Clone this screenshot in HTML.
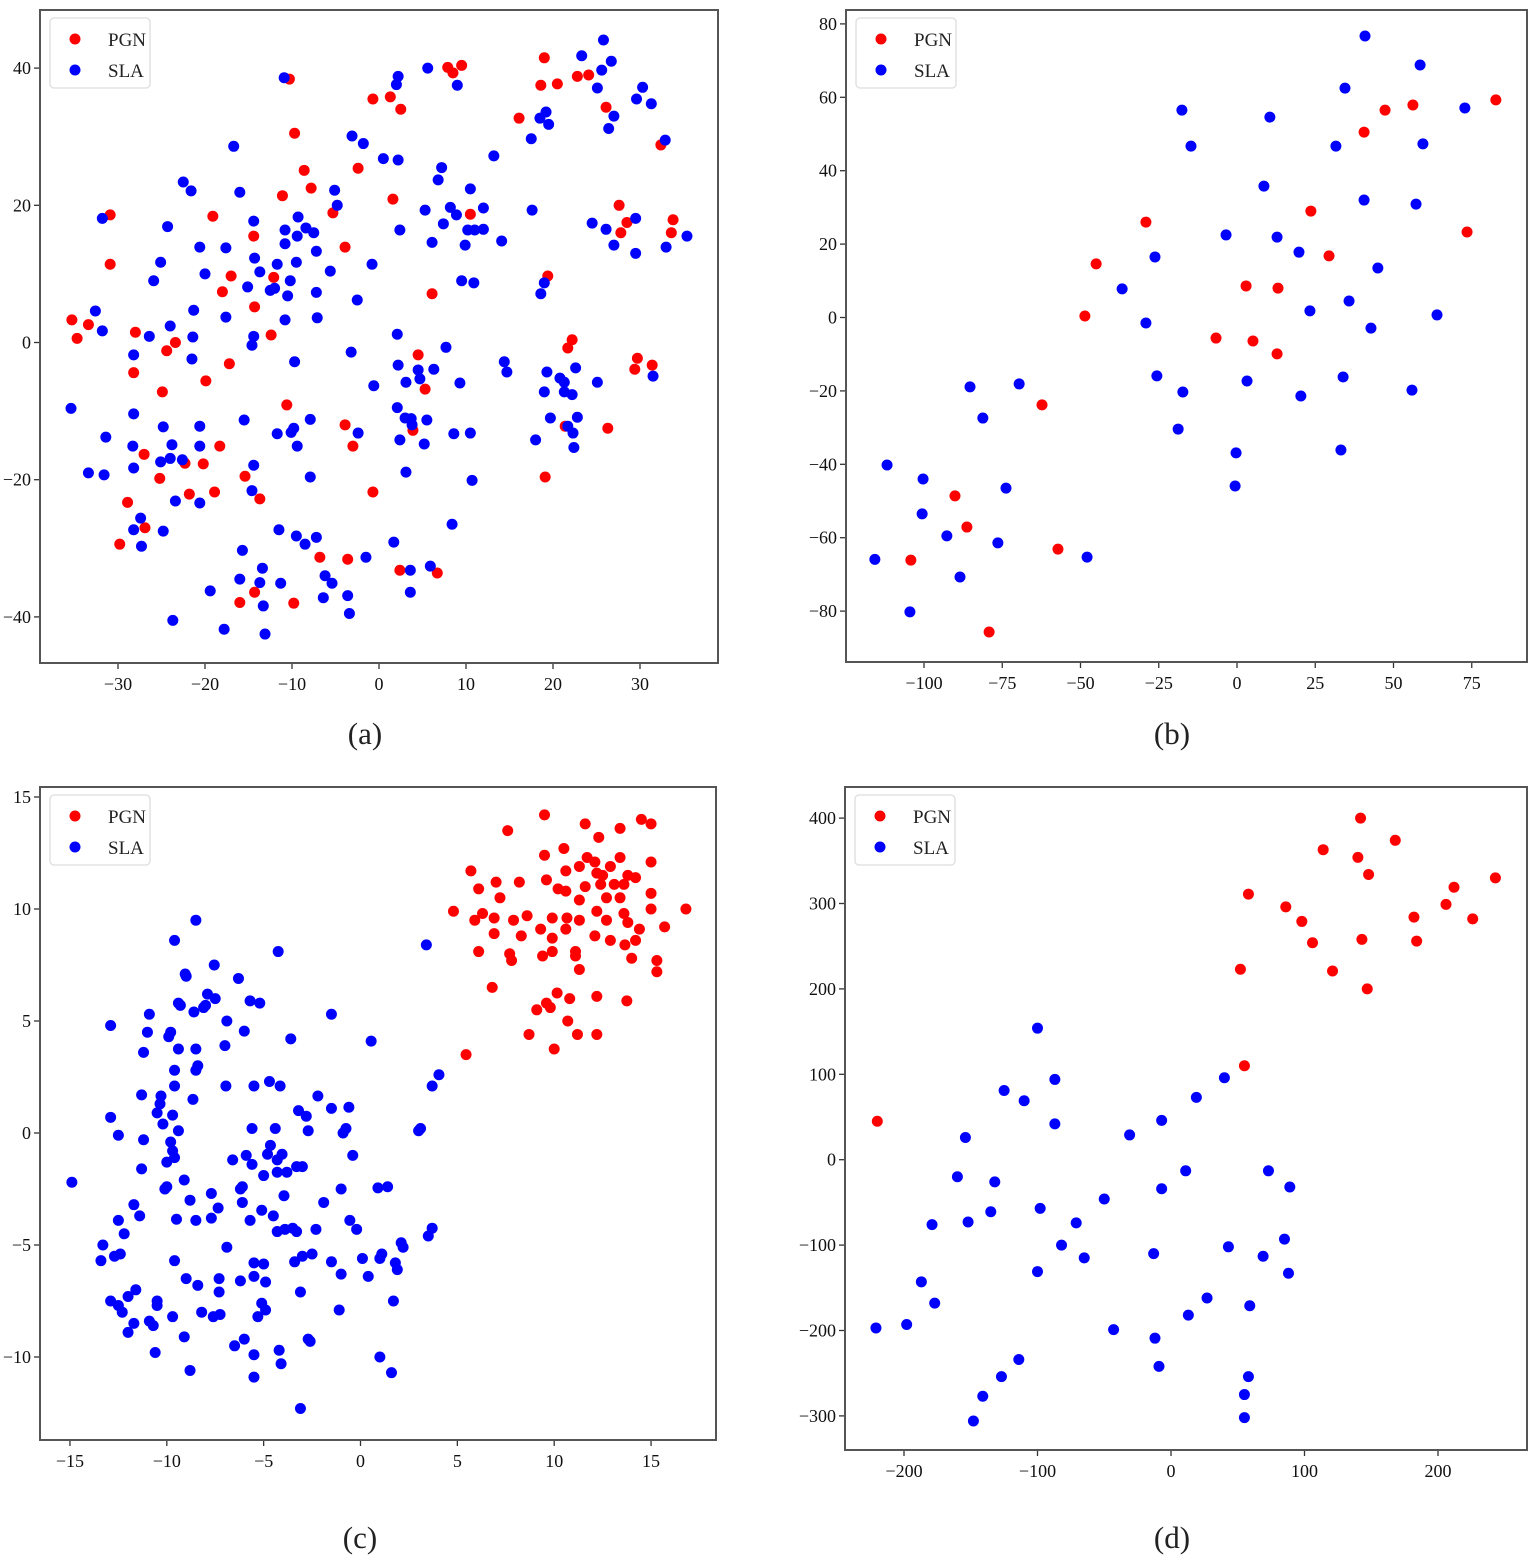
<!DOCTYPE html>
<html><head><meta charset="utf-8"><style>
html,body{margin:0;padding:0;background:#fff}
svg{display:block}
text{font-family:"Liberation Serif",serif;fill:#222}
</style></head><body>
<svg id="fig" width="1535" height="1564" viewBox="0 0 1535 1564" xmlns="http://www.w3.org/2000/svg"></svg>
<script>
// ---------- Panel (a) ----------
const aRedX=[-35.3,-34.7,-33.4,-30.9,-30.9,-28,-28.2,-27,-26.9,-28.9,-29.8,-25.2,-24.4,-23.4,-24.9,-22.3,-21.8,-20.2,-19.9,-19.1,-18.9,-18.3,-18,-17,-17.2,-16,-15.4,-14.3,-14.4,-14.3,-13.7,-12.4,-12.1,-11.1,-10.3,-10.6,-9.7,-9.8,-8.6,-7.8,-6.8,-5.3,-3.9,-3.9,-3,-3.6,-2.4,-0.7,-0.7,1.3,1.6,2.5,2.4,3.9,4.5,5.3,6.1,6.7,7.9,8.5,9.5,10.5,16.1,18.6,19,20.5,19.4,19.1,22.8,24.1,22.2,21.7,21.4,26.1,26.3,27.6,27.8,28.5,32.4,33.8,33.6,29.7,29.4,31.4];
const aRedY=[3.3,0.6,2.6,18.6,11.4,1.5,-4.4,-16.3,-27,-23.3,-29.4,-19.8,-1.2,0,-7.2,-17.6,-22.1,-17.7,-5.6,18.4,-21.8,-15.1,7.4,9.7,-3.1,-37.9,-19.5,-36.4,15.5,5.2,-22.8,1.1,9.5,21.4,38.4,-9.1,30.5,-38,25.1,22.5,-31.3,18.9,13.9,-12,-15.1,-31.6,25.4,35.5,-21.8,35.8,20.9,34,-33.2,-12.8,-1.8,-6.8,7.1,-33.6,40.1,39.3,40.4,18.7,32.7,37.5,41.5,37.7,9.7,-19.6,38.8,39,0.4,-0.8,-12.2,34.3,-12.5,20,16,17.5,28.8,17.9,16,-2.3,-3.9,-3.3];
const aBlueX=[-35.4,-32.6,-31.8,-31.8,-31.4,-31.6,-33.4,-28.2,-28.2,-28.3,-28.2,-28.2,-27.4,-27.3,-26.4,-25.9,-25.1,-24.8,-25.1,-24.8,-24.3,-24,-23.8,-24,-23.4,-23.7,-22.6,-22.5,-21.6,-21.3,-21.4,-21.5,-20.6,-20.6,-20.6,-20.6,-20,-19.4,-17.8,-17.6,-17.6,-16.7,-16,-15.5,-15.7,-16,-15.1,-14.6,-14.4,-14.4,-14.3,-13.7,-14.4,-14.6,-13.7,-13.4,-13.3,-13.1,-12.5,-12,-11.7,-11.7,-11.5,-11.3,-10.9,-10.8,-10.8,-10.8,-10.5,-10.2,-10.1,-9.8,-9.7,-9.5,-9.4,-9.3,-9.4,-9.5,-8.5,-8.4,-7.9,-7.9,-7.5,-7.2,-7.2,-7.1,-7.2,-6.4,-6.2,-5.6,-5.4,-5.1,-4.8,-3.6,-3.4,-3.2,-3.1,-2.5,-2.4,-1.8,-1.5,-0.8,-0.6,0.5,2,2.2,1.7,2.1,2.2,2.1,2.2,2.4,2.4,3,3.1,3.1,3.6,3.6,3.7,3.8,4.5,4.7,5.2,5.3,5.6,5.5,5.9,6.1,6.3,6.8,7.2,7.4,7.7,8.2,8.4,8.6,8.9,9,9.3,9.5,9.9,10.2,10.5,10.5,10.7,10.9,11,12,12,13.2,14.1,14.4,14.7,17.6,18,17.5,18.5,18.6,19,19,19.2,19.3,19.5,19.7,20.8,21.3,21.3,21.7,22.4,22.3,22.2,22.6,22.8,23.3,24.5,25.1,25.1,25.6,25.8,26.1,26.4,26.7,27,27,29.5,29.5,29.6,30.3,31.3,31.5,33,32.9,35.4];
const aBlueY=[-9.6,4.6,18.1,1.7,-13.8,-19.3,-19,-1.8,-10.4,-15.1,-18.3,-27.3,-25.6,-29.7,0.9,9,11.7,-12.3,-17.4,-27.5,16.9,2.4,-14.9,-16.9,-23.1,-40.5,-17.1,23.4,22.1,4.7,0.8,-2.4,-12.2,-15.1,-23.4,13.9,10,-36.2,-41.8,3.7,13.8,28.6,21.9,-11.3,-30.3,-34.5,8.1,-0.4,0.9,17.7,12.3,10.3,-17.9,-21.6,-35,-32.9,-38.4,-42.5,7.6,7.9,11.4,-13.3,-27.3,-35.1,38.6,16.4,14.4,3.3,6.8,9,-13.1,-12.5,-2.8,11.7,15.5,18.3,-15.1,-28.2,-29.4,16.7,-11.2,-19.6,16,13.3,7.3,3.6,-28.4,-37.2,-34,10.4,-35.1,22.2,20,-36.9,-39.5,-1.4,30.1,6.2,-13.2,29,-31.3,11.4,-6.3,26.8,37.6,38.8,-29.1,1.2,26.6,-9.5,-3.3,16.4,-14.2,-11,-18.9,-5.8,-33.2,-36.4,-11.1,-12,-4,-5.3,-14.8,19.3,40,-11.3,-32.6,14.6,-3.9,23.7,25.5,17.3,-0.7,19.7,-26.5,-13.3,18.6,37.5,-5.9,9,14.2,16.4,22.4,-13.2,-20.1,8.7,16.4,19.6,16.5,27.2,14.8,-2.8,-4.3,19.3,-14.2,29.7,32.7,7.1,8.7,-7.2,33.6,-4.3,31.8,-11,-5.2,-7.2,-5.8,-12.2,-15.3,-13.2,-7.6,-3.7,-10.9,41.8,17.4,-5.8,37.1,39.7,44.1,16.5,31.2,41,14.2,33,13,18.1,35.5,37.2,34.8,-4.9,13.9,29.5,15.5];
const aXTicks=[-30,-20,-10,0,10,20,30];
const aYTicks=[-40,-20,0,20,40];

// ---------- Panel (b) ----------
const bRedX=[82.7,73.5,56.2,47.3,40.6,29.4,23.6,13.1,12.8,5.1,2.9,-6.7,-29.1,-45,-48.6,-62.3,-57.2,-90.1,-86.3,-104.2,-79.2];
const bRedY=[59.3,23.3,57.9,56.5,50.5,16.8,29,8,-9.9,-6.4,8.6,-5.6,26,14.6,0.4,-23.8,-63.1,-48.6,-57.1,-66.1,-85.7];
const bBlueX=[40.9,58.5,72.8,34.5,59.4,31.6,10.5,-17.6,-14.7,8.6,40.6,57.2,-3.5,12.8,19.8,-26.2,45,-36.7,35.8,23.3,63.9,-29.1,42.8,-25.6,33.9,3.2,-17.3,55.9,20.4,-85.3,-69.6,-81.2,-18.8,33.2,-0.3,-0.6,-111.8,-100.3,-73.8,-100.6,-92.7,-76.4,-47.9,-115.7,-88.5,-104.5];
const bBlueY=[76.7,68.8,57.1,62.5,47.3,46.7,54.6,56.5,46.7,35.8,32,30.9,22.5,21.9,17.8,16.5,13.5,7.8,4.5,1.8,0.7,-1.5,-2.9,-15.9,-16.2,-17.3,-20.3,-19.8,-21.4,-18.9,-18.1,-27.4,-30.4,-36.1,-36.9,-45.9,-40.2,-44,-46.5,-53.5,-59.5,-61.4,-65.3,-65.9,-70.7,-80.2];
const bXTicks=[-100,-75,-50,-25,0,25,50,75];
const bYTicks=[-80,-60,-40,-20,0,20,40,60,80];

// ---------- Panel (c) ----------
const cRedX=[9.5,14.5,15,7.6,11.6,13.4,12.3,10.5,9.5,11.7,12.1,13.4,15,12.9,11.3,5.7,10.6,12.2,12.5,13.8,14.2,7,8.2,9.6,12.4,13.1,13.6,6.1,10.2,11.6,10.6,15,7.2,11.3,12.7,13.4,16.8,4.8,6.3,8.6,9.9,10.66,12.2,13.6,15,5.9,6.9,7.9,11.3,12.7,13.8,9.3,10.6,14.4,15.7,6.9,8.3,9.9,12.1,12.9,14.2,9.9,11.1,13.65,6.1,7.7,7.8,11.1,9.4,15.3,11.3,15.3,14,6.8,10.15,10.8,9.6,9.1,9.8,12.2,13.75,10.7,8.7,11.2,12.2,10,5.45];
const cRedY=[14.2,14,13.8,13.5,13.8,13.6,13.2,12.7,12.4,12.3,12.1,12.3,12.1,11.9,11.9,11.7,11.7,11.6,11.5,11.5,11.4,11.2,11.2,11.3,11.1,11.1,11.1,10.9,10.9,11,10.8,10.7,10.5,10.4,10.5,10.5,10,9.9,9.8,9.7,9.6,9.6,9.9,9.8,10,9.5,9.6,9.5,9.5,9.5,9.4,9.1,9.1,9.1,9.2,8.9,8.8,8.7,8.8,8.6,8.6,8.1,8.1,8.4,8.1,8,7.7,7.9,7.9,7.7,7.3,7.2,7.8,6.5,6.25,6,5.8,5.5,5.6,6.1,5.9,5,4.4,4.4,4.4,3.75,3.5];
const cBlueX=[-14.9,-12.9,-12.9,-13.3,-13.4,-12.7,-12.4,-12.9,-12.5,-12.3,-12,-11.7,-12,-12.5,-12.2,-12.5,-11.7,-11.6,-11.4,-11.3,-11.2,-11.3,-11.2,-11,-10.9,-10.9,-10.7,-10.5,-10.5,-10.6,-10.5,-10.35,-10.3,-10.2,-10.1,-10,-9.9,-9.8,-10,-9.8,-9.7,-9.6,-9.6,-9.6,-9.6,-9.7,-9.7,-9.6,-9.5,-9.4,-9.4,-9.4,-9.3,-9.1,-9,-9.1,-9.05,-9,-8.8,-8.8,-8.6,-8.5,-8.5,-8.5,-8.5,-8.4,-8.65,-8.4,-8.2,-8.1,-8,-7.9,-7.7,-7.7,-7.6,-7.55,-7.5,-7.3,-7.3,-7.35,-7.25,-7,-6.95,-6.9,-6.9,-6.6,-6.5,-6.3,-6.2,-6.2,-6.1,-6.1,-6,-6,-5.9,-5.7,-5.7,-5.6,-5.6,-5.5,-5.5,-5.5,-5.5,-5.5,-5.3,-5.2,-5.1,-5.1,-5,-5,-4.9,-4.9,-4.8,-4.7,-4.65,-4.5,-4.4,-4.3,-4.3,-4.3,-4.25,-4.2,-4.15,-4.1,-4.05,-3.95,-3.9,-3.8,-3.6,-3.5,-3.4,-3.3,-3.3,-3.2,-3.1,-3.1,-3,-3,-2.8,-2.7,-2.7,-2.6,-2.5,-2.3,-2.2,-1.9,-1.5,-1.5,-1.5,-1.1,-1,-1,-0.9,-0.75,-0.6,-0.55,-0.4,-0.2,0.1,0.4,0.55,0.9,1,1,1.1,1.4,1.6,1.7,1.8,1.9,2.1,2.2,3,3.1,3.4,3.5,3.7,3.7,4.05];
const cBlueY=[-2.2,0.7,4.8,-5,-5.7,-5.5,-5.4,-7.5,-7.7,-8,-8.9,-8.5,-7.3,-3.9,-4.5,-0.1,-3.2,-7,-3.7,-1.6,-0.3,1.7,3.6,4.5,5.3,-8.4,-8.6,-7.5,0.9,-9.8,-7.7,1.3,1.65,0.4,-2.5,-2.4,4.3,4.5,-1.3,-0.4,-8.2,-5.7,2.1,8.6,2.8,0.8,-0.8,-1.1,-3.85,3.75,5.8,0.1,5.7,-9.1,-6.5,-2.1,7.1,7,-3,-10.6,5.4,9.5,2.8,3.75,-3.9,-6.8,1.5,3,-8,5.6,5.7,6.2,-2.7,-3.8,-8.2,7.5,6,-7.1,-6.5,-3.35,-8.1,3.9,2.1,5,-5.1,-1.2,-9.5,6.9,-6.6,-2.5,-3.1,-2.4,4.55,-9.2,-1,5.9,-3.9,-1.4,0.2,2.1,-5.8,-6.4,-9.9,-10.9,-8.2,5.8,-3.45,-7.6,-5.85,-1.9,-6.65,-7.9,-0.95,2.3,-0.55,-3.7,0.2,-1.2,-1.75,-4.4,8.1,-9.7,2.1,-10.3,-0.95,-2.8,-4.3,-1.75,4.2,-4.25,-5.75,-4.4,-1.5,1,-7.1,-12.3,-1.5,-5.5,0.75,0.1,-9.2,-9.3,-5.4,-4.3,1.65,-3.1,5.3,-5.75,1.1,-7.9,-2.5,-6.3,0,0.2,1.15,-3.9,-1,-4.3,-5.6,-6.4,4.1,-2.45,-10,-5.6,-5.4,-2.4,-10.7,-7.5,-5.8,-6.1,-4.9,-5.1,0.1,0.2,8.4,-4.6,-4.25,2.1,2.6];
const cXTicks=[-15,-10,-5,0,5,10,15];
const cYTicks=[-10,-5,0,5,10,15];

// ---------- Panel (d) ----------
const dRedX=[142,168,114,140,148,243,212,58,86,206,98,182,226,143,184,106,52,121,147,55,-220];
const dRedY=[400,374,363,354,334,330,319,311,296,299,279,284,282,258,256,254,223,221,200,110,45];
const dBlueX=[-100,-87,-125,-110,40,19,-87,-7,-31,-154,-160,11,-132,73,89,-7,-50,-135,-98,-179,-152,-71,-82,-65,85,43,-13,69,-100,88,-187,-177,27,13,59,-221,-198,-43,-12,-9,-114,-127,58,-141,55,55,-148];
const dBlueY=[154,94,81,69,96,73,42,46,29,26,-20,-13,-26,-13,-32,-34,-46,-61,-57,-76,-73,-74,-100,-115,-93,-102,-110,-113,-131,-133,-143,-168,-162,-182,-171,-197,-193,-199,-209,-242,-234,-254,-254,-277,-275,-302,-306];
const dXTicks=[-200,-100,0,100,200];
const dYTicks=[-300,-200,-100,0,100,200,300,400];

const svg=document.getElementById('fig');
const NS='http://www.w3.org/2000/svg';
function mk(tag,attrs,parent){const e=document.createElementNS(NS,tag);for(const k in attrs)e.setAttribute(k,attrs[k]);(parent||svg).appendChild(e);return e;}

function panel(id,box,xr,yr,xTicks,yTicks,redX,redY,blueX,blueY,caption,capPos){
  const g=mk('g',{});
  
  
  const sx=v=>xr[0]+(v-xr[1])*xr[2];
  const sy=v=>yr[0]-(v-yr[1])*yr[2];
  xTicks.forEach(t=>{
    const x=sx(t);
    mk('line',{x1:x,x2:x,y1:box[3],y2:box[3]+6,stroke:'#333','stroke-width':1.3},g);
    const tx=mk('text',{x:x,y:box[3]+27,'text-anchor':'middle','font-size':18,style:'fill:#111'},g);
    tx.textContent=t<0?'\u2212'+Math.abs(t):String(t);
    
    
  });
  yTicks.forEach(t=>{
    const y=sy(t);
    mk('line',{x1:box[0]-6,x2:box[0],y1:y,y2:y,stroke:'#333','stroke-width':1.3},g);
    const tx=mk('text',{x:box[0]-9,y:y+6,'text-anchor':'end','font-size':18,style:'fill:#111'},g);
    tx.textContent=t<0?'\u2212'+Math.abs(t):String(t);
    
    
  });
  const frame=mk('rect',{x:box[0],y:box[1],width:box[2]-box[0],height:box[3]-box[1],fill:'none',stroke:'#555','stroke-width':2},g);
  
  
  redX.forEach((v,i)=>{
    const c=mk('circle',{cx:sx(v),cy:sy(redY[i]),r:5.5,fill:'#ff0000'},g);
    
    
  });
  blueX.forEach((v,i)=>{
    const c=mk('circle',{cx:sx(v),cy:sy(blueY[i]),r:5.5,fill:'#0000ff'},g);
    
    
  });
  const lx=box[0]+10, ly=box[1]+8;
  const lg=mk('g',{},g);
  
  
  mk('rect',{x:lx,y:ly,width:100,height:70,rx:4,fill:'#fff',stroke:'#ddd','stroke-width':1.3},lg);
  mk('circle',{cx:lx+25,cy:ly+21,r:5.5,fill:'#ff0000'},lg);
  mk('circle',{cx:lx+25,cy:ly+52,r:5.5,fill:'#0000ff'},lg);
  const t1=mk('text',{x:lx+58,y:ly+28,'font-size':19},lg);t1.textContent='PGN';
  
  
  const t2=mk('text',{x:lx+58,y:ly+59,'font-size':19},lg);t2.textContent='SLA';
  
  
  const cap=mk('text',{x:capPos[0],y:capPos[1],'text-anchor':'middle','font-size':31},g);
  cap.textContent=caption;
  
  
}
panel('a',[40,10,718,663],[379,0,8.7],[342.5,0,6.86],aXTicks,aYTicks,aRedX,aRedY,aBlueX,aBlueY,'(a)',[365,744]);
panel('b',[846,10,1527,662],[1237,0,3.13],[317.5,0,3.67],bXTicks,bYTicks,bRedX,bRedY,bBlueX,bBlueY,'(b)',[1172,744]);
panel('c',[40,787,716,1440],[360.5,0,19.37],[1133,0,22.4],cXTicks,cYTicks,cRedX,cRedY,cBlueX,cBlueY,'(c)',[360,1548]);
panel('d',[845,787,1527,1450],[1171,0,1.335],[1159.7,0,0.854],dXTicks,dYTicks,dRedX,dRedY,dBlueX,dBlueY,'(d)',[1172,1548]);
</script>
</body></html>
